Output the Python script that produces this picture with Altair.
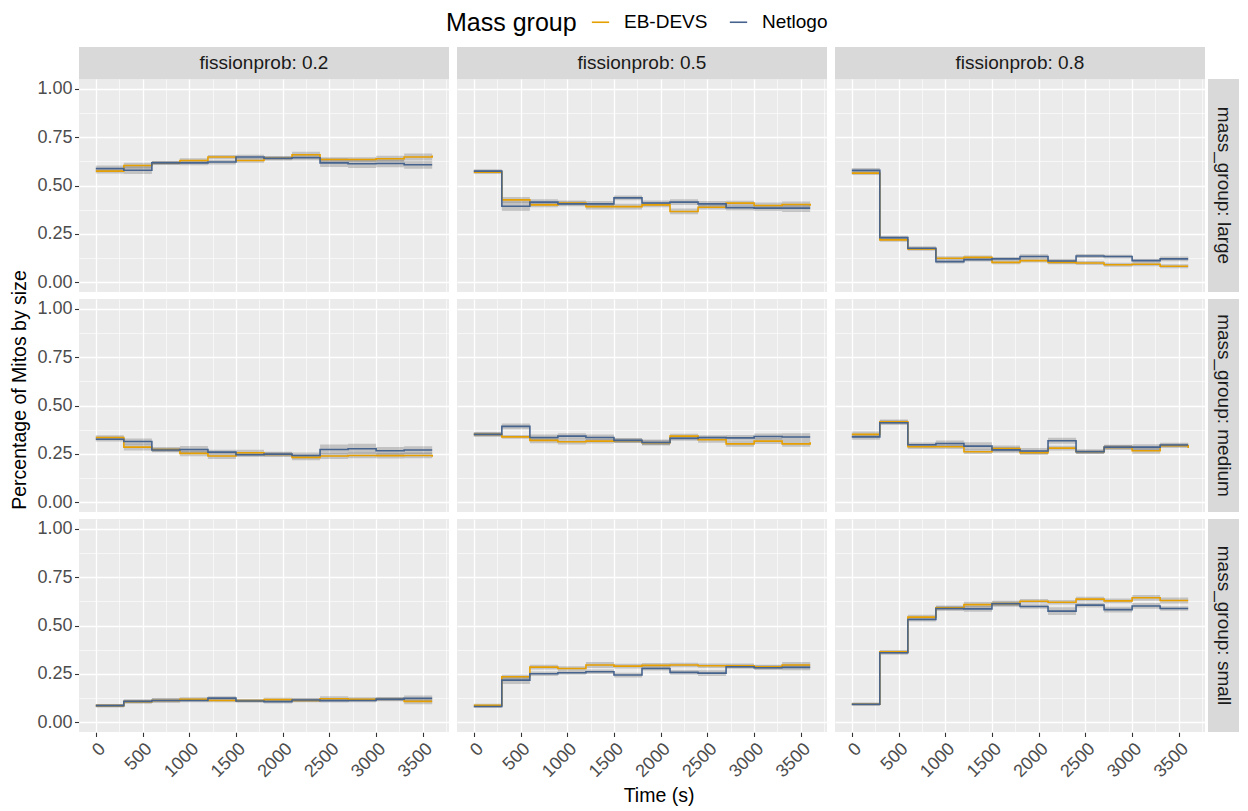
import altair as alt
import pandas as pd

FONT = "Liberation Sans"
ORANGE = "#E69F00"
BLUE = "#46638E"

times = [0, 300, 600, 900, 1200, 1500, 1800, 2100, 2400, 2700, 3000, 3300, 3600]
fission_levels = ["0.2", "0.5", "0.8"]
mass_levels = ["large", "medium", "small"]
models = ["EB-DEVS", "Netlogo"]

x_grid = [0, 250, 500, 750, 1000, 1250, 1500, 1750, 2000, 2250, 2500, 2750, 3000, 3250, 3500, 3750]
y_grid = [0, 0.125, 0.25, 0.375, 0.5, 0.625, 0.75, 0.875, 1.0]

# mean proportions (EB-DEVS / Netlogo) per mass group and fission probability
large_02_eb = [0.574, 0.603, 0.617, 0.629, 0.647, 0.629, 0.641, 0.659, 0.634, 0.634, 0.638, 0.647, 0.655]
large_02_nl = [0.588, 0.579, 0.617, 0.617, 0.621, 0.647, 0.641, 0.643, 0.617, 0.612, 0.614, 0.607, 0.607]
large_05_eb = [0.569, 0.426, 0.400, 0.410, 0.391, 0.391, 0.400, 0.366, 0.388, 0.409, 0.397, 0.402, 0.395]
large_05_nl = [0.574, 0.393, 0.414, 0.405, 0.405, 0.436, 0.410, 0.414, 0.405, 0.386, 0.383, 0.383, 0.383]
large_08_eb = [0.564, 0.219, 0.172, 0.124, 0.129, 0.103, 0.112, 0.103, 0.100, 0.091, 0.093, 0.083, 0.083]
large_08_nl = [0.578, 0.231, 0.176, 0.107, 0.117, 0.121, 0.133, 0.110, 0.136, 0.133, 0.112, 0.121, 0.121]
medium_02_eb = [0.335, 0.285, 0.273, 0.253, 0.239, 0.256, 0.247, 0.232, 0.239, 0.242, 0.241, 0.242, 0.235]
medium_02_nl = [0.326, 0.314, 0.270, 0.273, 0.259, 0.246, 0.249, 0.242, 0.273, 0.277, 0.266, 0.270, 0.270]
medium_05_eb = [0.351, 0.338, 0.320, 0.313, 0.316, 0.318, 0.308, 0.342, 0.323, 0.302, 0.316, 0.302, 0.310]
medium_05_nl = [0.351, 0.392, 0.335, 0.342, 0.335, 0.320, 0.309, 0.330, 0.335, 0.333, 0.340, 0.337, 0.337]
medium_08_eb = [0.351, 0.416, 0.287, 0.287, 0.261, 0.278, 0.256, 0.280, 0.261, 0.284, 0.266, 0.292, 0.280]
medium_08_nl = [0.338, 0.411, 0.297, 0.304, 0.290, 0.271, 0.265, 0.318, 0.261, 0.285, 0.285, 0.296, 0.296]
small_02_eb = [0.086, 0.107, 0.113, 0.119, 0.113, 0.112, 0.117, 0.113, 0.122, 0.119, 0.119, 0.108, 0.108]
small_02_nl = [0.086, 0.108, 0.113, 0.113, 0.125, 0.110, 0.107, 0.115, 0.112, 0.113, 0.120, 0.124, 0.124]
small_05_eb = [0.088, 0.235, 0.285, 0.278, 0.296, 0.290, 0.294, 0.296, 0.292, 0.292, 0.287, 0.296, 0.296]
small_05_nl = [0.082, 0.218, 0.251, 0.256, 0.261, 0.244, 0.278, 0.258, 0.254, 0.287, 0.282, 0.284, 0.284]
small_08_eb = [0.093, 0.364, 0.543, 0.591, 0.608, 0.613, 0.625, 0.620, 0.636, 0.627, 0.643, 0.629, 0.629]
small_08_nl = [0.093, 0.359, 0.531, 0.588, 0.586, 0.612, 0.598, 0.574, 0.605, 0.582, 0.601, 0.588, 0.588]

# half-width of the confidence ribbon
large_02_eb_ci = [0.012, 0.015, 0.010, 0.012, 0.010, 0.012, 0.010, 0.015, 0.012, 0.012, 0.015, 0.018, 0.025]
large_02_nl_ci = [0.015, 0.020, 0.010, 0.012, 0.012, 0.012, 0.010, 0.012, 0.022, 0.022, 0.020, 0.020, 0.020]
large_05_eb_ci = [0.010, 0.015, 0.012, 0.012, 0.015, 0.015, 0.012, 0.015, 0.012, 0.012, 0.015, 0.015, 0.015]
large_05_nl_ci = [0.010, 0.025, 0.015, 0.012, 0.015, 0.012, 0.012, 0.015, 0.015, 0.015, 0.015, 0.020, 0.020]
large_08_eb_ci = [0.010, 0.010, 0.008, 0.010, 0.010, 0.010, 0.010, 0.010, 0.010, 0.010, 0.010, 0.010, 0.010]
large_08_nl_ci = [0.012, 0.010, 0.010, 0.010, 0.010, 0.010, 0.012, 0.012, 0.010, 0.010, 0.010, 0.012, 0.012]
medium_02_eb_ci = [0.012, 0.018, 0.012, 0.015, 0.015, 0.015, 0.012, 0.015, 0.015, 0.015, 0.015, 0.015, 0.020]
medium_02_nl_ci = [0.012, 0.015, 0.012, 0.018, 0.012, 0.012, 0.012, 0.015, 0.025, 0.025, 0.020, 0.020, 0.020]
medium_05_eb_ci = [0.010, 0.010, 0.015, 0.015, 0.012, 0.012, 0.012, 0.012, 0.015, 0.015, 0.015, 0.015, 0.015]
medium_05_nl_ci = [0.012, 0.015, 0.015, 0.015, 0.015, 0.012, 0.015, 0.012, 0.012, 0.015, 0.015, 0.020, 0.020]
medium_08_eb_ci = [0.015, 0.012, 0.012, 0.012, 0.012, 0.015, 0.012, 0.012, 0.010, 0.012, 0.015, 0.010, 0.010]
medium_08_nl_ci = [0.015, 0.012, 0.012, 0.015, 0.020, 0.015, 0.015, 0.015, 0.012, 0.012, 0.015, 0.012, 0.012]
small_02_eb_ci = [0.008, 0.010, 0.012, 0.010, 0.010, 0.008, 0.010, 0.010, 0.012, 0.010, 0.010, 0.015, 0.015]
small_02_nl_ci = [0.008, 0.010, 0.010, 0.010, 0.010, 0.008, 0.010, 0.010, 0.010, 0.010, 0.010, 0.015, 0.015]
small_05_eb_ci = [0.008, 0.012, 0.012, 0.012, 0.015, 0.012, 0.012, 0.012, 0.012, 0.012, 0.010, 0.015, 0.015]
small_05_nl_ci = [0.008, 0.020, 0.012, 0.010, 0.012, 0.012, 0.010, 0.012, 0.015, 0.010, 0.012, 0.015, 0.015]
small_08_eb_ci = [0.008, 0.010, 0.012, 0.012, 0.015, 0.015, 0.012, 0.012, 0.012, 0.012, 0.015, 0.015, 0.015]
small_08_nl_ci = [0.008, 0.010, 0.010, 0.012, 0.015, 0.012, 0.012, 0.020, 0.012, 0.015, 0.015, 0.012, 0.012]

series = {
    ("large", "0.2"): (large_02_eb, large_02_eb_ci, large_02_nl, large_02_nl_ci),
    ("large", "0.5"): (large_05_eb, large_05_eb_ci, large_05_nl, large_05_nl_ci),
    ("large", "0.8"): (large_08_eb, large_08_eb_ci, large_08_nl, large_08_nl_ci),
    ("medium", "0.2"): (medium_02_eb, medium_02_eb_ci, medium_02_nl, medium_02_nl_ci),
    ("medium", "0.5"): (medium_05_eb, medium_05_eb_ci, medium_05_nl, medium_05_nl_ci),
    ("medium", "0.8"): (medium_08_eb, medium_08_eb_ci, medium_08_nl, medium_08_nl_ci),
    ("small", "0.2"): (small_02_eb, small_02_eb_ci, small_02_nl, small_02_nl_ci),
    ("small", "0.5"): (small_05_eb, small_05_eb_ci, small_05_nl, small_05_nl_ci),
    ("small", "0.8"): (small_08_eb, small_08_eb_ci, small_08_nl, small_08_nl_ci),
}

rows = []
for (mg, fp), (eb, eb_ci, nl, nl_ci) in series.items():
    for model, vals, cis in (("EB-DEVS", eb, eb_ci), ("Netlogo", nl, nl_ci)):
        for t, v, c in zip(times, vals, cis):
            rows.append({"mass_group": mg, "fissionprob": fp, "model": model,
                         "time": t, "value": v, "lo": v - c, "hi": v + c})
df = pd.DataFrame(rows)

W, H = 370, 213

x_test = "datum.value % 500 === 0"
y_test = "abs(datum.value * 4 - round(datum.value * 4)) < 0.001"

def axis_def(test, values, fmt, angle=0, align=None, baseline=None, pad=2):
    kw = dict(
        values=values, format=fmt, domain=False, title=None,
        labelExpr=f"({test}) ? datum.label : ''",
        labelFont=FONT, labelFontSize=18, labelColor="#4D4D4D",
        labelOverlap=False, labelFlush=False, labelPadding=pad,
        tickSize=4.5, tickWidth=1.1,
        tickColor={"condition": {"test": test, "value": "#333333"}, "value": "rgba(0,0,0,0)"},
        gridColor="#FFFFFF",
        gridWidth={"condition": {"test": test, "value": 1.3}, "value": 0.6},
    )
    if angle:
        kw["labelAngle"] = angle
    if align:
        kw["labelAlign"] = align
    if baseline:
        kw["labelBaseline"] = baseline
    return alt.Axis(**kw)

x_axis = axis_def(x_test, x_grid, "d", angle=-45, align="right", baseline="top", pad=3)
y_axis = axis_def(y_test, y_grid, ".2f", pad=2.5)

x_scale = alt.Scale(domain=[-180, 3780], nice=False, zero=False)
y_scale = alt.Scale(domain=[-0.05, 1.05], nice=False, zero=False)

base = alt.Chart(df)

ribbon = base.mark_area(interpolate="step-after", color="#333333", opacity=0.22).encode(
    x=alt.X("time:Q", scale=x_scale, axis=x_axis),
    y=alt.Y("lo:Q", scale=y_scale, axis=y_axis),
    y2="hi:Q",
    detail="model:N",
)

line = base.mark_line(interpolate="step-after", strokeWidth=1.6).encode(
    x=alt.X("time:Q", scale=x_scale, axis=x_axis),
    y=alt.Y("value:Q", scale=y_scale, axis=y_axis),
    color=alt.Color(
        "model:N",
        scale=alt.Scale(domain=models, range=[ORANGE, BLUE]),
        legend=alt.Legend(
            title="Mass group", orient="none", legendX=367, legendY=-66.5,
            direction="horizontal", titleOrient="left", titleBaseline="middle",
            titleFont=FONT, titleFontSize=25, titleFontWeight="normal", titleColor="#000000",
            titlePadding=14,
            labelFont=FONT, labelFontSize=19, labelColor="#000000", labelOffset=14,
            symbolType="stroke", symbolSize=300, symbolStrokeWidth=1.6,
            columnPadding=18,
        ),
    ),
)

top = (base.transform_filter("datum.mass_group === 'large'")
       .transform_aggregate(n="count()", groupby=["fissionprob", "mass_group"])
       .transform_calculate(label="'fissionprob: ' + datum.fissionprob"))
top_rect = top.mark_rect(color="#D9D9D9").encode(
    x=alt.value(0), x2=alt.value(W), y=alt.value(-32), y2=alt.value(0))
top_text = top.mark_text(font=FONT, fontSize=19, color="#1A1A1A").encode(
    x=alt.value(W / 2), y=alt.value(-16), text="label:N")

right = (base.transform_filter("datum.fissionprob === '0.8'")
         .transform_aggregate(n="count()", groupby=["fissionprob", "mass_group"])
         .transform_calculate(label="'mass_group: ' + datum.mass_group"))
right_rect = right.mark_rect(color="#D9D9D9").encode(
    x=alt.value(W + 3), x2=alt.value(W + 34), y=alt.value(0), y2=alt.value(H))
right_text = right.mark_text(font=FONT, fontSize=19, color="#1A1A1A", angle=90).encode(
    x=alt.value(W + 18.5), y=alt.value(H / 2), text="label:N")

panel = alt.layer(ribbon, line, top_rect, top_text, right_rect, right_text).properties(width=W, height=H)

chart = panel.facet(
    row=alt.Row("mass_group:N", sort=mass_levels,
                header=alt.Header(labels=False, labelPadding=0, title="Percentage of Mitos by size",
                                  titleFont=FONT, titleFontSize=19.5, titleFontWeight="normal",
                                  titleColor="#000000", titlePadding=-4)),
    column=alt.Column("fissionprob:N", sort=fission_levels,
                      header=alt.Header(labels=False, labelPadding=0, title="Time (s)", titleOrient="bottom",
                                        titleFont=FONT, titleFontSize=19.5, titleFontWeight="normal",
                                        titleColor="#000000", titlePadding=-4)),
    spacing={"row": 7, "column": 8},
    bounds="flush",
).properties(
    padding={"left": 1, "top": 4, "right": 0, "bottom": 2},
    background="#FFFFFF",
).configure(
    font=FONT
).configure_view(
    fill="#EBEBEB", strokeWidth=0
)

chart.save("out.html", embed_options={"renderer": "svg", "actions": False})
